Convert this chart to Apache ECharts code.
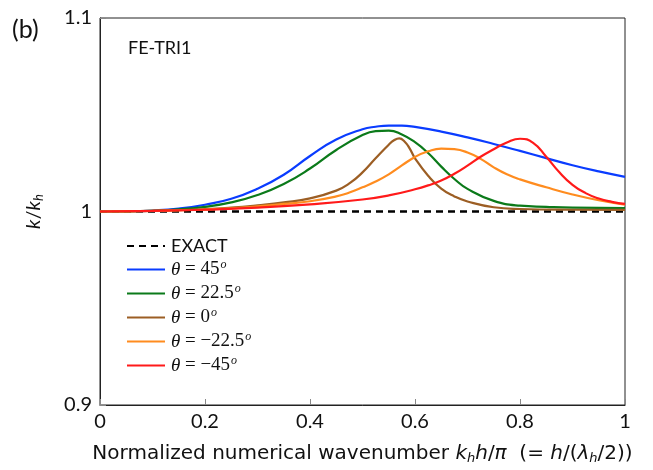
<!DOCTYPE html>
<html>
<head>
<meta charset="utf-8">
<script src="https://cdn.jsdelivr.net/npm/echarts@6/dist/echarts.min.js"></script>
<style>
  html, body { margin: 0; padding: 0; background: #fff; }
  #chart { width: 653px; height: 470px; }
</style>
</head>
<body>
<div id="chart"></div>
<script>
// values
const xTicks = [0, 0.2, 0.4, 0.6, 0.8, 1];
const yTicks = [0.9, 1, 1.1];

const exactX = [0, 1];
const exactY = [1, 1];

const blueX = [0, 0.05, 0.1, 0.15, 0.2, 0.25, 0.3, 0.35, 0.4, 0.45, 0.5, 0.525, 0.55, 0.575, 0.6, 0.65, 0.7, 0.75, 0.8, 0.85, 0.9, 0.95, 1];
const blueY = [1, 1.0001, 1.0005, 1.0015, 1.0035, 1.0066, 1.0118, 1.019, 1.0287, 1.0372, 1.0425, 1.0438, 1.0444, 1.0444, 1.0437, 1.0413, 1.0383, 1.0349, 1.0313, 1.0276, 1.0239, 1.0207, 1.0179];

const greenX = [0, 0.05, 0.1, 0.15, 0.2, 0.25, 0.3, 0.35, 0.4, 0.45, 0.5, 0.525, 0.55, 0.575, 0.6, 0.625, 0.65, 0.675, 0.7, 0.75, 0.8, 0.85, 0.9, 1];
const greenY = [1, 1.0001, 1.0004, 1.0011, 1.0024, 1.0047, 1.0085, 1.0142, 1.0222, 1.0318, 1.0395, 1.0415, 1.0418, 1.0398, 1.0358, 1.0302, 1.0232, 1.0168, 1.0117, 1.0055, 1.003, 1.0024, 1.002, 1.0018];

const brownX = [0, 0.1, 0.2, 0.25, 0.3, 0.35, 0.4, 0.45, 0.475, 0.5, 0.525, 0.55, 0.56, 0.57, 0.58, 0.59, 0.6, 0.625, 0.65, 0.675, 0.7, 0.75, 0.8, 0.9, 1];
const brownY = [1, 1.0003, 1.0012, 1.002, 1.0032, 1.0047, 1.0068, 1.0108, 1.0145, 1.0202, 1.0275, 1.0345, 1.0368, 1.0378, 1.0362, 1.0325, 1.0275, 1.0185, 1.0118, 1.0078, 1.0052, 1.0022, 1.0013, 1.0009, 1.0008];

const orangeX = [0, 0.1, 0.2, 0.25, 0.3, 0.35, 0.4, 0.45, 0.475, 0.5, 0.525, 0.55, 0.575, 0.6, 0.625, 0.65, 0.675, 0.7, 0.725, 0.75, 0.775, 0.8, 0.85, 0.9, 0.95, 1];
const orangeY = [1, 1.0003, 1.001, 1.0016, 1.0026, 1.0039, 1.0053, 1.0078, 1.0098, 1.0125, 1.0155, 1.0192, 1.0238, 1.0282, 1.0311, 1.0325, 1.0322, 1.0305, 1.0272, 1.0228, 1.0192, 1.0166, 1.0125, 1.0088, 1.0058, 1.0035];

const redX = [0, 0.1, 0.2, 0.3, 0.4, 0.5, 0.55, 0.6, 0.625, 0.65, 0.675, 0.7, 0.725, 0.75, 0.775, 0.8, 0.825, 0.85, 0.875, 0.9, 0.925, 0.95, 0.975, 1];
const redY = [1, 1.0003, 1.0009, 1.002, 1.0037, 1.0062, 1.0083, 1.0115, 1.0135, 1.016, 1.0195, 1.0237, 1.0283, 1.0322, 1.0357, 1.0376, 1.0355, 1.0283, 1.0203, 1.0138, 1.0095, 1.0067, 1.005, 1.0039];

const seriesNames = ['EXACT', 'θ45', 'θ22.5', 'θ0', 'θ-22.5', 'θ-45'];
const legendLabels = ['45', '22.5', '0', '−22.5', '−45'];

const FONT = 'Lato';
const WIDE = 'DejaVu Sans';
const MATH = 'Liberation Serif';
const chart = echarts.init(document.getElementById('chart'));

const pairs = (xs, ys) => xs.map((x, i) => [x, ys[i]]);

const lineSeries = (name, xs, ys, color, extra) => Object.assign({
  name: name,
  type: 'line',
  data: pairs(xs, ys),
  smooth: 0.5,
  symbol: 'none',
  lineStyle: { color: color, width: 2.2 },
  itemStyle: { color: color },
  z: 3
}, extra || {});

const option = {
  animation: false,
  textStyle: { fontFamily: FONT },
  grid: {
    left: 100, right: 28, top: 18, bottom: 63,
    show: true, borderColor: '#222', borderWidth: 1
  },
  title: [
    { text: '(b)', left: 7, top: 12, textStyle: { fontFamily: FONT, fontSize: 25, fontWeight: 'normal', color: '#111' } },
    { text: 'FE-TRI1', left: 123, top: 34, textStyle: { fontFamily: FONT, fontSize: 18, fontWeight: 'normal', color: '#111' } }
  ],
  legend: {
    orient: 'vertical',
    left: 121, top: 232,
    itemWidth: 38, itemHeight: 14, itemGap: 4,
    itemStyle: { opacity: 0 },
    data: seriesNames,
    formatter: (name) => {
      const i = seriesNames.indexOf(name);
      if (i === 0) return '{n|EXACT}';
      return '{it|θ} {m|= ' + legendLabels[i - 1] + '}{sup|o}';
    },
    textStyle: {
      fontFamily: FONT, fontSize: 18, color: '#111',
      rich: {
        n: { fontFamily: FONT, fontSize: 18, color: '#111', padding: [0, 0, 0, 1] },
        it: { fontFamily: MATH, fontStyle: 'italic', fontSize: 19, color: '#111', padding: [0, 0, 0, 1] },
        m: { fontFamily: MATH, fontSize: 19, color: '#111' },
        sup: { fontFamily: MATH, fontStyle: 'italic', fontSize: 12, color: '#111', padding: [0, 0, 9, 1] }
      }
    }
  },
  xAxis: {
    type: 'value', min: 0, max: 1, interval: 0.2,
    name: 'Normalized numerical wavenumber {it|k}{sub|h}{it|h}/{it|π}  (= {it|h}/({it|λ}{sub|h}/2))',
    nameLocation: 'middle', nameGap: 38,
    nameTextStyle: {
      fontFamily: WIDE, fontSize: 20, color: '#111',
      rich: {
        it: { fontFamily: WIDE, fontStyle: 'italic', fontSize: 20, color: '#111' },
        sub: { fontFamily: WIDE, fontStyle: 'italic', fontSize: 13, color: '#111', padding: [9, 0, 0, 0] }
      }
    },
    axisLine: { lineStyle: { color: '#222', width: 1 } },
    axisTick: { inside: true, length: 6, lineStyle: { color: '#888' } },
    axisLabel: {
      fontFamily: FONT, fontSize: 20, color: '#111', margin: 7,
      formatter: (v) => xTicks.includes(+v.toFixed(2)) ? String(+v.toFixed(2)) : ''
    },
    splitLine: { show: false }
  },
  yAxis: {
    type: 'value', min: 0.9, max: 1.1, interval: 0.1,
    name: '{it|k}/{it|k}{sub|h}',
    nameLocation: 'middle', nameGap: 55, nameRotate: 90,
    nameTextStyle: {
      fontFamily: FONT, fontSize: 20, color: '#111',
      rich: {
        it: { fontFamily: FONT, fontStyle: 'italic', fontSize: 20, color: '#111' },
        sub: { fontFamily: FONT, fontStyle: 'italic', fontSize: 13, color: '#111', padding: [9, 0, 0, 0] }
      }
    },
    axisLine: { lineStyle: { color: '#222', width: 1 } },
    axisTick: { inside: true, length: 6, lineStyle: { color: '#888' } },
    axisLabel: {
      fontFamily: FONT, fontSize: 20, color: '#111', margin: 8,
      formatter: (v) => {
        const r = +v.toFixed(2);
        return yTicks.includes(r) ? String(r) : '';
      }
    },
    splitLine: { show: false }
  },
  series: [
    lineSeries('EXACT', exactX, exactY, '#000', { smooth: false, lineStyle: { color: '#000', width: 2.6, type: [7, 5] }, z: 2 }),
    lineSeries('θ45', blueX, blueY, '#0a3cff'),
    lineSeries('θ22.5', greenX, greenY, '#0b7a1a'),
    lineSeries('θ0', brownX, brownY, '#9c5e24'),
    lineSeries('θ-22.5', orangeX, orangeY, '#ff8c1f'),
    lineSeries('θ-45', redX, redY, '#ff1a1a')
  ]
};

chart.setOption(option);
</script>
</body>
</html>
